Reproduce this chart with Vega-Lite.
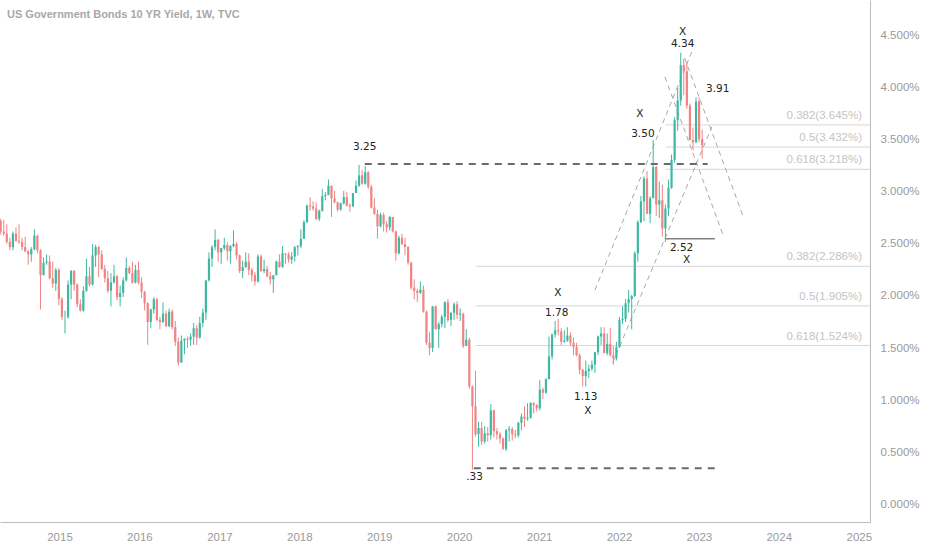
{
  "$schema": "https://vega.github.io/schema/vega-lite/v6.json",
  "width": 870,
  "height": 522,
  "autosize": {"type": "none"},
  "padding": {"left": 0, "top": 0, "right": 62, "bottom": 28},
  "background": "white",
  "title": {
    "text": "US Government Bonds 10 YR Yield, 1W, TVC",
    "anchor": "start", "frame": "group", "offset": -20, "dx": 7,
    "font": "Liberation Sans", "fontSize": 11, "fontWeight": "bold", "color": "#a8a8a8"
  },
  "config": {
    "view": {"stroke": null},
    "font": "Liberation Sans",
    "axis": {"domainColor": "#bcbcbc", "labelColor": "#9a9a9a", "labelFontSize": 11.5, "ticks": false, "grid": false}
  },
  "datasets": {
    "candles": [
      {"t":"2014-04-07","o":2.72,"h":2.74,"l":2.59,"c":2.62},
      {"t":"2014-04-21","o":2.62,"h":2.73,"l":2.58,"c":2.60},
      {"t":"2014-05-05","o":2.60,"h":2.69,"l":2.50,"c":2.52},
      {"t":"2014-05-19","o":2.52,"h":2.56,"l":2.44,"c":2.47},
      {"t":"2014-06-02","o":2.47,"h":2.62,"l":2.44,"c":2.60},
      {"t":"2014-06-16","o":2.60,"h":2.66,"l":2.52,"c":2.53},
      {"t":"2014-06-30","o":2.53,"h":2.69,"l":2.50,"c":2.52},
      {"t":"2014-07-14","o":2.52,"h":2.56,"l":2.44,"c":2.47},
      {"t":"2014-07-28","o":2.47,"h":2.57,"l":2.42,"c":2.43},
      {"t":"2014-08-11","o":2.43,"h":2.44,"l":2.30,"c":2.40},
      {"t":"2014-08-25","o":2.40,"h":2.47,"l":2.33,"c":2.45},
      {"t":"2014-09-08","o":2.45,"h":2.64,"l":2.44,"c":2.58},
      {"t":"2014-09-22","o":2.58,"h":2.59,"l":2.41,"c":2.44},
      {"t":"2014-10-06","o":2.44,"h":2.45,"l":1.87,"c":2.20},
      {"t":"2014-10-20","o":2.20,"h":2.37,"l":2.20,"c":2.32},
      {"t":"2014-11-03","o":2.32,"h":2.40,"l":2.30,"c":2.33},
      {"t":"2014-11-17","o":2.33,"h":2.39,"l":2.16,"c":2.17},
      {"t":"2014-12-01","o":2.17,"h":2.33,"l":2.08,"c":2.12},
      {"t":"2014-12-15","o":2.12,"h":2.27,"l":2.05,"c":2.25},
      {"t":"2014-12-29","o":2.25,"h":2.27,"l":1.91,"c":1.97},
      {"t":"2015-01-12","o":1.97,"h":1.99,"l":1.77,"c":1.80},
      {"t":"2015-01-26","o":1.80,"h":1.86,"l":1.64,"c":1.80},
      {"t":"2015-02-09","o":1.80,"h":2.15,"l":1.78,"c":2.11},
      {"t":"2015-02-23","o":2.11,"h":2.25,"l":1.97,"c":2.24},
      {"t":"2015-03-09","o":2.24,"h":2.25,"l":2.05,"c":2.11},
      {"t":"2015-03-23","o":2.11,"h":2.12,"l":1.89,"c":1.92},
      {"t":"2015-04-06","o":1.92,"h":1.97,"l":1.85,"c":1.86},
      {"t":"2015-04-20","o":1.86,"h":2.09,"l":1.85,"c":2.05},
      {"t":"2015-05-04","o":2.05,"h":2.36,"l":2.04,"c":2.19},
      {"t":"2015-05-18","o":2.19,"h":2.28,"l":2.09,"c":2.11},
      {"t":"2015-06-01","o":2.11,"h":2.50,"l":2.10,"c":2.39},
      {"t":"2015-06-15","o":2.39,"h":2.49,"l":2.28,"c":2.47},
      {"t":"2015-06-29","o":2.47,"h":2.48,"l":2.18,"c":2.40},
      {"t":"2015-07-13","o":2.40,"h":2.44,"l":2.25,"c":2.26},
      {"t":"2015-07-27","o":2.26,"h":2.30,"l":2.13,"c":2.17},
      {"t":"2015-08-10","o":2.17,"h":2.24,"l":2.03,"c":2.05},
      {"t":"2015-08-24","o":2.05,"h":2.22,"l":1.90,"c":2.13},
      {"t":"2015-09-07","o":2.13,"h":2.30,"l":2.12,"c":2.19},
      {"t":"2015-09-21","o":2.19,"h":2.20,"l":1.96,"c":1.99},
      {"t":"2015-10-05","o":1.99,"h":2.10,"l":1.90,"c":2.03},
      {"t":"2015-10-19","o":2.03,"h":2.18,"l":1.99,"c":2.15},
      {"t":"2015-11-02","o":2.15,"h":2.37,"l":2.14,"c":2.27},
      {"t":"2015-11-16","o":2.27,"h":2.29,"l":2.21,"c":2.22},
      {"t":"2015-11-30","o":2.22,"h":2.33,"l":2.12,"c":2.13},
      {"t":"2015-12-14","o":2.13,"h":2.30,"l":2.12,"c":2.25},
      {"t":"2015-12-28","o":2.25,"h":2.33,"l":2.11,"c":2.13},
      {"t":"2016-01-11","o":2.13,"h":2.18,"l":1.98,"c":2.04},
      {"t":"2016-01-25","o":2.04,"h":2.05,"l":1.86,"c":1.93},
      {"t":"2016-02-08","o":1.93,"h":1.94,"l":1.53,"c":1.75},
      {"t":"2016-02-22","o":1.75,"h":1.88,"l":1.69,"c":1.87},
      {"t":"2016-03-07","o":1.87,"h":1.99,"l":1.83,"c":1.97},
      {"t":"2016-03-21","o":1.97,"h":1.98,"l":1.76,"c":1.77},
      {"t":"2016-04-04","o":1.77,"h":1.80,"l":1.68,"c":1.75},
      {"t":"2016-04-18","o":1.75,"h":1.94,"l":1.74,"c":1.83},
      {"t":"2016-05-02","o":1.83,"h":1.86,"l":1.70,"c":1.71},
      {"t":"2016-05-16","o":1.71,"h":1.88,"l":1.70,"c":1.85},
      {"t":"2016-05-30","o":1.85,"h":1.87,"l":1.68,"c":1.70},
      {"t":"2016-06-13","o":1.70,"h":1.76,"l":1.52,"c":1.56},
      {"t":"2016-06-27","o":1.56,"h":1.60,"l":1.33,"c":1.36},
      {"t":"2016-07-11","o":1.36,"h":1.62,"l":1.36,"c":1.57},
      {"t":"2016-07-25","o":1.57,"h":1.59,"l":1.44,"c":1.59},
      {"t":"2016-08-08","o":1.59,"h":1.61,"l":1.50,"c":1.58},
      {"t":"2016-08-22","o":1.58,"h":1.64,"l":1.52,"c":1.61},
      {"t":"2016-09-05","o":1.61,"h":1.74,"l":1.53,"c":1.69},
      {"t":"2016-09-19","o":1.69,"h":1.72,"l":1.53,"c":1.60},
      {"t":"2016-10-03","o":1.60,"h":1.80,"l":1.59,"c":1.74},
      {"t":"2016-10-17","o":1.74,"h":1.88,"l":1.70,"c":1.84},
      {"t":"2016-10-31","o":1.84,"h":2.15,"l":1.77,"c":2.15},
      {"t":"2016-11-14","o":2.15,"h":2.42,"l":2.14,"c":2.36},
      {"t":"2016-11-28","o":2.36,"h":2.49,"l":2.28,"c":2.47},
      {"t":"2016-12-12","o":2.47,"h":2.64,"l":2.44,"c":2.54},
      {"t":"2016-12-26","o":2.54,"h":2.55,"l":2.33,"c":2.42},
      {"t":"2017-01-09","o":2.42,"h":2.46,"l":2.31,"c":2.46},
      {"t":"2017-01-23","o":2.46,"h":2.56,"l":2.44,"c":2.49},
      {"t":"2017-02-06","o":2.49,"h":2.52,"l":2.34,"c":2.43},
      {"t":"2017-02-20","o":2.43,"h":2.49,"l":2.31,"c":2.48},
      {"t":"2017-03-06","o":2.48,"h":2.63,"l":2.47,"c":2.50},
      {"t":"2017-03-20","o":2.50,"h":2.52,"l":2.35,"c":2.39},
      {"t":"2017-04-03","o":2.39,"h":2.40,"l":2.22,"c":2.24},
      {"t":"2017-04-17","o":2.24,"h":2.34,"l":2.17,"c":2.28},
      {"t":"2017-05-01","o":2.28,"h":2.42,"l":2.27,"c":2.33},
      {"t":"2017-05-15","o":2.33,"h":2.41,"l":2.20,"c":2.25},
      {"t":"2017-05-29","o":2.25,"h":2.27,"l":2.14,"c":2.20},
      {"t":"2017-06-12","o":2.20,"h":2.23,"l":2.10,"c":2.14},
      {"t":"2017-06-26","o":2.14,"h":2.40,"l":2.13,"c":2.38},
      {"t":"2017-07-10","o":2.38,"h":2.40,"l":2.23,"c":2.24},
      {"t":"2017-07-24","o":2.24,"h":2.35,"l":2.22,"c":2.26},
      {"t":"2017-08-07","o":2.26,"h":2.29,"l":2.18,"c":2.19},
      {"t":"2017-08-21","o":2.19,"h":2.23,"l":2.11,"c":2.16},
      {"t":"2017-09-04","o":2.16,"h":2.18,"l":2.03,"c":2.20},
      {"t":"2017-09-18","o":2.20,"h":2.34,"l":2.20,"c":2.33},
      {"t":"2017-10-02","o":2.33,"h":2.40,"l":2.27,"c":2.28},
      {"t":"2017-10-16","o":2.28,"h":2.48,"l":2.27,"c":2.41},
      {"t":"2017-10-30","o":2.41,"h":2.41,"l":2.31,"c":2.40},
      {"t":"2017-11-13","o":2.40,"h":2.42,"l":2.32,"c":2.35},
      {"t":"2017-11-27","o":2.35,"h":2.42,"l":2.31,"c":2.38},
      {"t":"2017-12-11","o":2.38,"h":2.48,"l":2.33,"c":2.47},
      {"t":"2017-12-25","o":2.47,"h":2.49,"l":2.39,"c":2.48},
      {"t":"2018-01-08","o":2.48,"h":2.64,"l":2.46,"c":2.55},
      {"t":"2018-01-22","o":2.55,"h":2.73,"l":2.55,"c":2.71},
      {"t":"2018-02-05","o":2.71,"h":2.88,"l":2.70,"c":2.87},
      {"t":"2018-02-19","o":2.87,"h":2.95,"l":2.82,"c":2.86},
      {"t":"2018-03-05","o":2.86,"h":2.91,"l":2.82,"c":2.84},
      {"t":"2018-03-19","o":2.84,"h":2.90,"l":2.73,"c":2.74},
      {"t":"2018-04-02","o":2.74,"h":2.83,"l":2.72,"c":2.82},
      {"t":"2018-04-16","o":2.82,"h":3.03,"l":2.81,"c":2.96},
      {"t":"2018-04-30","o":2.96,"h":3.00,"l":2.92,"c":2.97},
      {"t":"2018-05-14","o":2.97,"h":3.12,"l":2.97,"c":3.06},
      {"t":"2018-05-28","o":3.06,"h":3.06,"l":2.76,"c":2.94},
      {"t":"2018-06-11","o":2.94,"h":3.01,"l":2.89,"c":2.90},
      {"t":"2018-06-25","o":2.90,"h":2.91,"l":2.81,"c":2.83},
      {"t":"2018-07-09","o":2.83,"h":2.90,"l":2.82,"c":2.89},
      {"t":"2018-07-23","o":2.89,"h":3.01,"l":2.88,"c":2.95},
      {"t":"2018-08-06","o":2.95,"h":3.00,"l":2.86,"c":2.87},
      {"t":"2018-08-20","o":2.87,"h":2.89,"l":2.81,"c":2.86},
      {"t":"2018-09-03","o":2.86,"h":2.99,"l":2.86,"c":2.99},
      {"t":"2018-09-17","o":2.99,"h":3.11,"l":2.99,"c":3.06},
      {"t":"2018-10-01","o":3.06,"h":3.26,"l":3.05,"c":3.16},
      {"t":"2018-10-15","o":3.16,"h":3.21,"l":3.07,"c":3.08},
      {"t":"2018-10-29","o":3.08,"h":3.25,"l":3.07,"c":3.19},
      {"t":"2018-11-12","o":3.19,"h":3.20,"l":3.03,"c":3.05},
      {"t":"2018-11-26","o":3.05,"h":3.07,"l":2.84,"c":2.85},
      {"t":"2018-12-10","o":2.85,"h":2.94,"l":2.78,"c":2.79},
      {"t":"2018-12-24","o":2.79,"h":2.83,"l":2.55,"c":2.67},
      {"t":"2019-01-07","o":2.67,"h":2.80,"l":2.66,"c":2.78},
      {"t":"2019-01-21","o":2.78,"h":2.80,"l":2.62,"c":2.69},
      {"t":"2019-02-04","o":2.69,"h":2.72,"l":2.61,"c":2.66},
      {"t":"2019-02-18","o":2.66,"h":2.77,"l":2.63,"c":2.76},
      {"t":"2019-03-04","o":2.76,"h":2.76,"l":2.61,"c":2.62},
      {"t":"2019-03-18","o":2.62,"h":2.63,"l":2.34,"c":2.41},
      {"t":"2019-04-01","o":2.41,"h":2.58,"l":2.40,"c":2.56},
      {"t":"2019-04-15","o":2.56,"h":2.60,"l":2.49,"c":2.50},
      {"t":"2019-04-29","o":2.50,"h":2.56,"l":2.39,"c":2.47},
      {"t":"2019-05-13","o":2.47,"h":2.48,"l":2.30,"c":2.32},
      {"t":"2019-05-27","o":2.32,"h":2.33,"l":2.06,"c":2.08},
      {"t":"2019-06-10","o":2.08,"h":2.16,"l":1.97,"c":2.05},
      {"t":"2019-06-24","o":2.05,"h":2.07,"l":1.94,"c":2.03},
      {"t":"2019-07-08","o":2.03,"h":2.14,"l":2.02,"c":2.06},
      {"t":"2019-07-22","o":2.06,"h":2.10,"l":1.84,"c":1.85},
      {"t":"2019-08-05","o":1.85,"h":1.86,"l":1.53,"c":1.55},
      {"t":"2019-08-19","o":1.55,"h":1.65,"l":1.43,"c":1.50},
      {"t":"2019-09-02","o":1.50,"h":1.90,"l":1.46,"c":1.90},
      {"t":"2019-09-16","o":1.90,"h":1.91,"l":1.68,"c":1.68},
      {"t":"2019-09-30","o":1.68,"h":1.75,"l":1.50,"c":1.73},
      {"t":"2019-10-14","o":1.73,"h":1.82,"l":1.70,"c":1.80},
      {"t":"2019-10-28","o":1.80,"h":1.95,"l":1.69,"c":1.94},
      {"t":"2019-11-11","o":1.94,"h":1.97,"l":1.75,"c":1.77},
      {"t":"2019-11-25","o":1.77,"h":1.84,"l":1.71,"c":1.84},
      {"t":"2019-12-09","o":1.84,"h":1.94,"l":1.77,"c":1.92},
      {"t":"2019-12-23","o":1.92,"h":1.95,"l":1.78,"c":1.82},
      {"t":"2020-01-06","o":1.82,"h":1.88,"l":1.76,"c":1.83},
      {"t":"2020-01-20","o":1.83,"h":1.84,"l":1.50,"c":1.52},
      {"t":"2020-02-03","o":1.52,"h":1.68,"l":1.52,"c":1.58},
      {"t":"2020-02-17","o":1.58,"h":1.60,"l":1.11,"c":1.13},
      {"t":"2020-03-02","o":1.13,"h":1.14,"l":0.33,"c":0.94},
      {"t":"2020-03-16","o":0.94,"h":1.28,"l":0.65,"c":0.67},
      {"t":"2020-03-30","o":0.67,"h":0.79,"l":0.55,"c":0.73},
      {"t":"2020-04-13","o":0.73,"h":0.79,"l":0.57,"c":0.60},
      {"t":"2020-04-27","o":0.60,"h":0.75,"l":0.58,"c":0.68},
      {"t":"2020-05-11","o":0.68,"h":0.74,"l":0.60,"c":0.66},
      {"t":"2020-05-25","o":0.66,"h":0.96,"l":0.62,"c":0.90},
      {"t":"2020-06-08","o":0.90,"h":0.91,"l":0.64,"c":0.70},
      {"t":"2020-06-22","o":0.70,"h":0.73,"l":0.62,"c":0.67},
      {"t":"2020-07-06","o":0.67,"h":0.69,"l":0.58,"c":0.63},
      {"t":"2020-07-20","o":0.63,"h":0.64,"l":0.52,"c":0.53},
      {"t":"2020-08-03","o":0.53,"h":0.72,"l":0.51,"c":0.71},
      {"t":"2020-08-17","o":0.71,"h":0.75,"l":0.60,"c":0.72},
      {"t":"2020-08-31","o":0.72,"h":0.74,"l":0.61,"c":0.67},
      {"t":"2020-09-14","o":0.67,"h":0.71,"l":0.63,"c":0.66},
      {"t":"2020-09-28","o":0.66,"h":0.79,"l":0.64,"c":0.78},
      {"t":"2020-10-12","o":0.78,"h":0.87,"l":0.71,"c":0.84},
      {"t":"2020-10-26","o":0.84,"h":0.94,"l":0.74,"c":0.82},
      {"t":"2020-11-09","o":0.82,"h":0.97,"l":0.80,"c":0.83},
      {"t":"2020-11-23","o":0.83,"h":0.98,"l":0.82,"c":0.97},
      {"t":"2020-12-07","o":0.97,"h":0.98,"l":0.87,"c":0.95},
      {"t":"2020-12-21","o":0.95,"h":0.96,"l":0.89,"c":0.92},
      {"t":"2021-01-04","o":0.92,"h":1.19,"l":0.90,"c":1.10},
      {"t":"2021-01-18","o":1.10,"h":1.12,"l":1.01,"c":1.07},
      {"t":"2021-02-01","o":1.07,"h":1.21,"l":1.06,"c":1.20},
      {"t":"2021-02-15","o":1.20,"h":1.61,"l":1.20,"c":1.42},
      {"t":"2021-03-01","o":1.42,"h":1.64,"l":1.39,"c":1.63},
      {"t":"2021-03-15","o":1.63,"h":1.76,"l":1.60,"c":1.67},
      {"t":"2021-03-29","o":1.67,"h":1.78,"l":1.62,"c":1.66},
      {"t":"2021-04-12","o":1.66,"h":1.69,"l":1.53,"c":1.56},
      {"t":"2021-04-26","o":1.56,"h":1.67,"l":1.55,"c":1.57},
      {"t":"2021-05-10","o":1.57,"h":1.70,"l":1.56,"c":1.62},
      {"t":"2021-05-24","o":1.62,"h":1.65,"l":1.52,"c":1.55},
      {"t":"2021-06-07","o":1.55,"h":1.60,"l":1.43,"c":1.51},
      {"t":"2021-06-21","o":1.51,"h":1.55,"l":1.42,"c":1.43},
      {"t":"2021-07-05","o":1.43,"h":1.45,"l":1.25,"c":1.29},
      {"t":"2021-07-19","o":1.29,"h":1.30,"l":1.13,"c":1.23},
      {"t":"2021-08-02","o":1.23,"h":1.38,"l":1.13,"c":1.28},
      {"t":"2021-08-16","o":1.28,"h":1.34,"l":1.21,"c":1.30},
      {"t":"2021-08-30","o":1.30,"h":1.38,"l":1.28,"c":1.34},
      {"t":"2021-09-13","o":1.34,"h":1.46,"l":1.26,"c":1.46},
      {"t":"2021-09-27","o":1.46,"h":1.62,"l":1.43,"c":1.61},
      {"t":"2021-10-11","o":1.61,"h":1.70,"l":1.53,"c":1.64},
      {"t":"2021-10-25","o":1.64,"h":1.70,"l":1.52,"c":1.45},
      {"t":"2021-11-08","o":1.45,"h":1.64,"l":1.43,"c":1.54},
      {"t":"2021-11-22","o":1.54,"h":1.69,"l":1.42,"c":1.43},
      {"t":"2021-12-06","o":1.43,"h":1.52,"l":1.34,"c":1.40},
      {"t":"2021-12-20","o":1.40,"h":1.56,"l":1.38,"c":1.51},
      {"t":"2022-01-03","o":1.51,"h":1.80,"l":1.50,"c":1.77},
      {"t":"2022-01-17","o":1.77,"h":1.90,"l":1.73,"c":1.78},
      {"t":"2022-01-31","o":1.78,"h":1.97,"l":1.75,"c":1.93},
      {"t":"2022-02-14","o":1.93,"h":2.06,"l":1.84,"c":1.97},
      {"t":"2022-02-28","o":1.97,"h":2.01,"l":1.68,"c":2.00},
      {"t":"2022-03-14","o":2.00,"h":2.43,"l":1.99,"c":2.41},
      {"t":"2022-03-28","o":2.41,"h":2.73,"l":2.33,"c":2.71},
      {"t":"2022-04-11","o":2.71,"h":2.96,"l":2.70,"c":2.91},
      {"t":"2022-04-25","o":2.91,"h":3.15,"l":2.72,"c":3.13},
      {"t":"2022-05-09","o":3.13,"h":3.20,"l":2.79,"c":2.79},
      {"t":"2022-05-23","o":2.79,"h":2.96,"l":2.70,"c":2.94},
      {"t":"2022-06-06","o":2.94,"h":3.50,"l":2.94,"c":3.24},
      {"t":"2022-06-20","o":3.24,"h":3.25,"l":2.77,"c":2.88},
      {"t":"2022-07-04","o":2.88,"h":3.10,"l":2.75,"c":2.92},
      {"t":"2022-07-18","o":2.92,"h":3.07,"l":2.57,"c":2.65},
      {"t":"2022-08-01","o":2.65,"h":2.88,"l":2.52,"c":2.84},
      {"t":"2022-08-15","o":2.84,"h":3.12,"l":2.77,"c":3.04},
      {"t":"2022-08-29","o":3.04,"h":3.36,"l":3.03,"c":3.31},
      {"t":"2022-09-12","o":3.31,"h":3.72,"l":3.28,"c":3.69},
      {"t":"2022-09-26","o":3.69,"h":4.00,"l":3.59,"c":3.88},
      {"t":"2022-10-10","o":3.88,"h":4.34,"l":3.83,"c":4.22},
      {"t":"2022-10-24","o":4.22,"h":4.28,"l":3.93,"c":4.16},
      {"t":"2022-11-07","o":4.16,"h":4.24,"l":3.80,"c":3.83},
      {"t":"2022-11-21","o":3.83,"h":3.85,"l":3.50,"c":3.50},
      {"t":"2022-12-05","o":3.50,"h":3.62,"l":3.40,"c":3.48},
      {"t":"2022-12-19","o":3.48,"h":3.91,"l":3.47,"c":3.87},
      {"t":"2023-01-02","o":3.87,"h":3.91,"l":3.48,"c":3.51},
      {"t":"2023-01-16","o":3.51,"h":3.60,"l":3.32,"c":3.45}
    ],
    "segments": [
      {"kind":"channel","t":"2021-09-13","v":2.058,"t2":"2022-11-29","v2":4.346},
      {"kind":"channel","t":"2021-12-03","v":1.356,"t2":"2023-03-01","v2":3.625},
      {"kind":"channel","t":"2022-07-30","v":4.106,"t2":"2023-04-25","v2":2.567},
      {"kind":"channel","t":"2022-10-28","v":4.288,"t2":"2023-07-20","v2":2.779},
      {"kind":"level","t":"2018-10-27","v":3.27,"t2":"2023-02-10","v2":3.27},
      {"kind":"level","t":"2020-03-08","v":0.345,"t2":"2023-04-06","v2":0.345},
      {"kind":"low","t":"2022-08-03","v":2.55,"t2":"2023-03-15","v2":2.55}
    ],
    "fib": [
      {"label":"0.382(3.645%)","v":3.645,"t":"2022-08-02","t2":"2025-02-21"},
      {"label":"0.5(3.432%)","v":3.432,"t":"2022-08-02","t2":"2025-02-21"},
      {"label":"0.618(3.218%)","v":3.218,"t":"2022-08-02","t2":"2025-02-21"},
      {"label":"0.382(2.286%)","v":2.286,"t":"2020-03-17","t2":"2025-02-21"},
      {"label":"0.5(1.905%)","v":1.905,"t":"2020-03-17","t2":"2025-02-21"},
      {"label":"0.618(1.524%)","v":1.524,"t":"2020-03-17","t2":"2025-02-21"}
    ],
    "notes": [
      {"t":"2018-10-27","v":3.433,"label":"3.25"},
      {"t":"2020-03-12","v":0.26,"label":".33"},
      {"t":"2021-03-27","v":2.029,"label":"X"},
      {"t":"2021-03-22","v":1.837,"label":"1.78"},
      {"t":"2021-08-02","v":1.029,"label":"1.13"},
      {"t":"2021-08-11","v":0.894,"label":"X"},
      {"t":"2022-04-06","v":3.75,"label":"X"},
      {"t":"2022-04-20","v":3.558,"label":"3.50"},
      {"t":"2022-10-19","v":4.54,"label":"X"},
      {"t":"2022-10-19","v":4.423,"label":"4.34"},
      {"t":"2023-03-28","v":3.99,"label":"3.91"},
      {"t":"2022-10-14","v":2.46,"label":"2.52"},
      {"t":"2022-11-06","v":2.345,"label":"X"}
    ]
  },
  "encoding": {
    "x": {
      "field": "t", "type": "temporal", "title": null,
      "scale": {"type": "utc", "domain": [{"year": 2014, "month": 4, "date": 4, "utc": true}, {"year": 2025, "month": 2, "date": 21, "utc": true}]},
      "axis": {"orient": "bottom", "format": "%Y", "tickCount": {"interval": "year", "step": 1}, "labelPadding": 9, "labelFlush": false, "labelOverlap": false}
    },
    "y": {
      "field": "v", "type": "quantitative", "title": null,
      "scale": {"domain": [-0.173, 4.846], "nice": false, "zero": false},
      "axis": {"orient": "right", "values": [0, 0.5, 1, 1.5, 2, 2.5, 3, 3.5, 4, 4.5], "labelExpr": "format(datum.value, '.3f') + '%'", "labelPadding": 10}
    }
  },
  "layer": [
    {
      "data": {"name": "fib"},
      "mark": {"type": "rule", "color": "#d6d6d6", "strokeWidth": 1},
      "encoding": {"x2": {"field": "t2"}}
    },
    {
      "data": {"name": "fib"},
      "mark": {"type": "text", "align": "right", "baseline": "middle", "dx": -8, "dy": -9, "fontSize": 11.5, "color": "#c4c4c4"},
      "encoding": {"x": {"field": "t2", "type": "temporal"}, "text": {"field": "label"}}
    },
    {
      "data": {"name": "segments"},
      "transform": [{"filter": "datum.kind == 'channel'"}],
      "mark": {"type": "rule", "color": "#a8a8a8", "strokeWidth": 1, "strokeDash": [5, 4]},
      "encoding": {"x2": {"field": "t2"}, "y2": {"field": "v2"}}
    },
    {
      "data": {"name": "candles"},
      "mark": {"type": "rule", "strokeWidth": 1},
      "encoding": {
        "y": {"field": "l", "type": "quantitative", "title": null},
        "y2": {"field": "h"},
        "color": {"condition": {"test": "datum.c >= datum.o", "value": "#3fb8a2"}, "value": "#f08383"}
      }
    },
    {
      "data": {"name": "candles"},
      "mark": {"type": "rule", "strokeWidth": 2.2},
      "encoding": {
        "y": {"field": "o", "type": "quantitative", "title": null},
        "y2": {"field": "c"},
        "color": {"condition": {"test": "datum.c >= datum.o", "value": "#3fb8a2"}, "value": "#f08383"}
      }
    },
    {
      "data": {"name": "segments"},
      "transform": [{"filter": "datum.kind == 'level'"}],
      "mark": {"type": "rule", "color": "#6a6a6a", "strokeWidth": 2, "strokeDash": [7, 6]},
      "encoding": {"x2": {"field": "t2"}, "y2": {"field": "v2"}}
    },
    {
      "data": {"name": "segments"},
      "transform": [{"filter": "datum.kind == 'low'"}],
      "mark": {"type": "rule", "color": "#808080", "strokeWidth": 1.5},
      "encoding": {"x2": {"field": "t2"}, "y2": {"field": "v2"}}
    },
    {
      "data": {"name": "notes"},
      "mark": {"type": "text", "align": "center", "baseline": "middle", "font": "DejaVu Sans", "fontSize": 10.5, "color": "#222222"},
      "encoding": {"text": {"field": "label"}}
    }
  ]
}
